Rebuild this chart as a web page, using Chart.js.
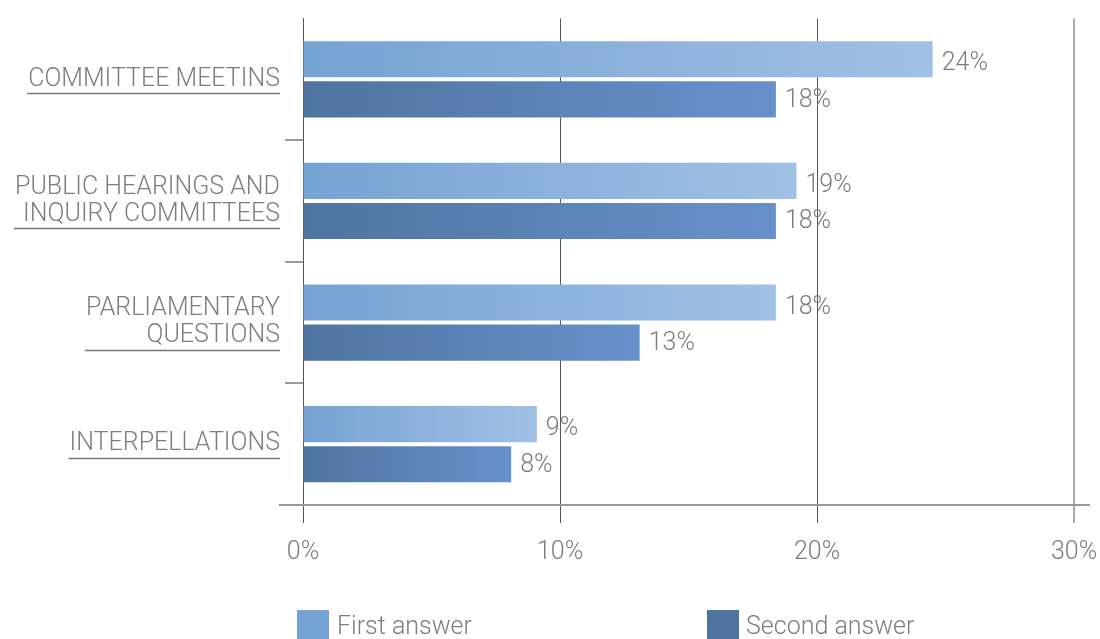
<!DOCTYPE html>
<html>
<head>
<meta charset="utf-8">
<script src="https://cdn.jsdelivr.net/npm/chart.js@4/dist/chart.umd.min.js"></script>
<style>
  html, body { margin: 0; padding: 0; background: #fff; overflow: hidden; }
  #wrap { position: relative; width: 1100px; height: 639px; }
  #legend { position: absolute; left: 0; top: 610px; width: 1100px; height: 40px;
            font-family: Roboto, "Noto Sans", sans-serif; font-weight: 300;
            font-size: 25px; color: #7d7d7d; }
  .box { position: absolute; top: 0; width: 32px; height: 32px; }
  .txt { position: absolute; top: 1px; white-space: nowrap; }
</style>
</head>
<body>
<div id="wrap">
  <canvas id="BarChart" width="1100" height="639"></canvas>
  <div id="legend">
    <div class="box" style="left:297px;background:#75a3d3"></div>
    <div class="txt" style="left:337px">First answer</div>
    <div class="box" style="left:707px;background:#4f74a0"></div>
    <div class="txt" style="left:746px">Second answer</div>
  </div>
</div>
<script>
var categories = [
    'COMMITTEE MEETINS',
    ['PUBLIC HEARINGS AND', 'INQUIRY COMMITTEES'],
    ['PARLIAMENTARY', 'QUESTIONS'],
    'INTERPELLATIONS'
];
var firstAnswer = [24.5, 19.2, 18.4, 9.1];
var secondAnswer = [18.4, 18.4, 13.1, 8.1];
var firstText = ['24%', '19%', '18%', '9%'];
var secondText = ['18%', '18%', '13%', '8%'];
var xTicks = [0, 10, 20, 30];

var labelFont = '300 25px Roboto, "Noto Sans", sans-serif';
var textGray = '#7d7d7d';

function barGradient(from, to) {
    return function (c) {
        var chart = c.chart;
        if (!chart.chartArea || c.raw === undefined) return from;
        var x = chart.scales.x;
        var g = chart.ctx.createLinearGradient(x.getPixelForValue(0), 0, x.getPixelForValue(c.raw), 0);
        g.addColorStop(0, from);
        g.addColorStop(1, to);
        return g;
    };
}

// value labels next to the bars + category underlines + long bottom line
var extras = {
    id: 'extras',
    afterDatasetsDraw: function (chart) {
        var ctx = chart.ctx;
        var texts = [firstText, secondText];
        ctx.save();
        ctx.font = labelFont;
        ctx.fillStyle = textGray;
        ctx.textAlign = 'left';
        ctx.textBaseline = 'middle';
        chart.data.datasets.forEach(function (ds, d) {
            chart.getDatasetMeta(d).data.forEach(function (bar, i) {
                ctx.fillText(texts[d][i], bar.x + 9, bar.y + (d === 0 ? 5 : 1));
            });
        });
        ctx.restore();
    },
    afterDraw: function (chart) {
        var ctx = chart.ctx;
        var y = chart.scales.y;
        var area = chart.chartArea;
        ctx.save();
        // bottom axis line, a bit wider than the plot
        ctx.strokeStyle = '#999';
        ctx.lineWidth = 2;
        ctx.beginPath();
        ctx.moveTo(area.left - 24, area.bottom);
        ctx.lineTo(area.right + 16, area.bottom);
        ctx.stroke();
        // underline under the category names
        ctx.font = labelFont;
        ctx.strokeStyle = '#777';
        ctx.lineWidth = 1.5;
        var lh = 27;
        categories.forEach(function (lab, i) {
            var lines = Array.isArray(lab) ? lab : [lab];
            var w = 0;
            lines.forEach(function (l) { w = Math.max(w, ctx.measureText(l).width); });
            var right = area.left - 23;
            var yc = y.getPixelForTick(i) + (lines.length - 1) * lh / 2 + 14;
            ctx.beginPath();
            ctx.moveTo(right - w - 1, Math.round(yc) + 0.5);
            ctx.lineTo(right, Math.round(yc) + 0.5);
            ctx.stroke();
        });
        ctx.restore();
    }
};

var chart = new Chart(document.getElementById('BarChart'), {
    type: 'bar',
    data: {
        labels: categories,
        datasets: [
            {
                label: 'First answer',
                data: firstAnswer,
                backgroundColor: barGradient('#75a3d3', '#a1c0e5'),
                categoryPercentage: 0.66,
                barPercentage: 0.9
            },
            {
                label: 'Second answer',
                data: secondAnswer,
                backgroundColor: barGradient('#4f74a0', '#6891cc'),
                categoryPercentage: 0.66,
                barPercentage: 0.9
            }
        ]
    },
    options: {
        indexAxis: 'y',
        responsive: false,
        animation: false,
        layout: { padding: { top: 18, right: 26, left: 0, bottom: 0 } },
        plugins: {
            legend: { display: false },
            tooltip: { enabled: false }
        },
        scales: {
            x: {
                min: 0,
                max: 30,
                afterBuildTicks: function (scale) {
                    scale.ticks = xTicks.map(function (v) { return { value: v }; });
                },
                afterFit: function (scale) {
                    scale.height = 134;
                    scale.paddingLeft = 0;
                    scale.paddingRight = 0;
                },
                ticks: {
                    callback: function (v) { return v + '%'; },
                    color: textGray,
                    padding: 15,
                    font: { family: 'Roboto, "Noto Sans", sans-serif', weight: 300, size: 25 }
                },
                grid: {
                    color: function (c) { return c.tick && c.tick.value === 30 ? '#aaa' : '#555'; },
                    lineWidth: function (c) { return c.tick && c.tick.value === 30 ? 2 : 1; },
                    tickLength: 18
                },
                border: { display: false }
            },
            y: {
                afterFit: function (scale) { scale.width = 303; },
                ticks: {
                    color: textGray,
                    padding: 5,
                    font: { family: 'Roboto, "Noto Sans", sans-serif', weight: 300, size: 25, lineHeight: 1.08 }
                },
                grid: {
                    drawOnChartArea: false,
                    tickLength: 18,
                    color: function (c) { return c.index === 0 ? 'rgba(0,0,0,0)' : '#999'; },
                    lineWidth: 2
                },
                border: { display: true, color: '#555', width: 1 }
            }
        }
    },
    plugins: [extras]
});
</script>
</body>
</html>
